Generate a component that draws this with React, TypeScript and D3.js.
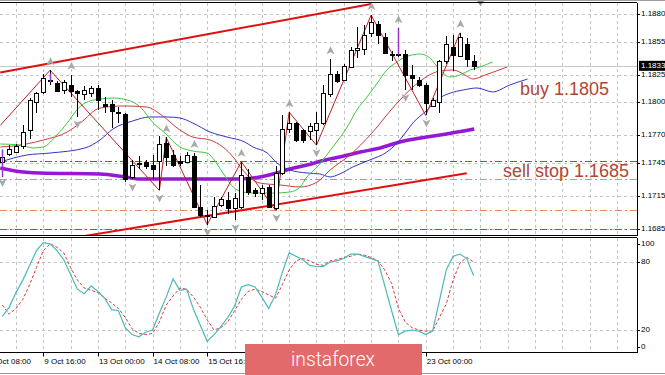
import React from 'react'
import * as d3 from 'd3'

const W = 665
const H = 375
const RIGHT = 637
const MAIN_TOP = 2.5
const MAIN_BOTTOM = 235.5
const ST_TOP = 237.5
const ST_BOTTOM = 352.5

// H4 candles, index 0 = 8 Oct 16:00
const OPEN = [1.1746, 1.1753, 1.1755, 1.176, 1.1775, 1.18, 1.1809, 1.182, 1.1817, 1.1811, 1.1816, 1.181, 1.1807, 1.1808, 1.1813, 1.1798, 1.1798, 1.1791, 1.1789, 1.1732, 1.1744, 1.1746, 1.1743, 1.1747, 1.1763, 1.1752, 1.1747, 1.1746, 1.1751, 1.1705, 1.1698, 1.1696, 1.1707, 1.1711, 1.1704, 1.1705, 1.1732, 1.172, 1.1718, 1.1723, 1.1704, 1.1736, 1.1776, 1.1781, 1.1775, 1.1774, 1.1775, 1.1781, 1.1807, 1.1826, 1.182, 1.1832, 1.1847, 1.1848, 1.1863, 1.1871, 1.1859, 1.1844, 1.1844, 1.1844, 1.1825, 1.182, 1.1816, 1.1797, 1.18, 1.1837, 1.185, 1.1842, 1.1853, 1.1837]
const HIGH = [1.1757, 1.1761, 1.1762, 1.1779, 1.1804, 1.1809, 1.1826, 1.1829, 1.1819, 1.182, 1.1825, 1.1811, 1.1815, 1.1815, 1.1816, 1.1805, 1.1802, 1.1796, 1.179, 1.1748, 1.1751, 1.1748, 1.1752, 1.1769, 1.1768, 1.1757, 1.1751, 1.1755, 1.1754, 1.1725, 1.1702, 1.1714, 1.1714, 1.1719, 1.1718, 1.1746, 1.1739, 1.1722, 1.1725, 1.1725, 1.1742, 1.1788, 1.1791, 1.1782, 1.1776, 1.1781, 1.1791, 1.1816, 1.1839, 1.1828, 1.1835, 1.185, 1.1868, 1.187, 1.1879, 1.1874, 1.1863, 1.1846, 1.1867, 1.1847, 1.1834, 1.1823, 1.1817, 1.1804, 1.1838, 1.186, 1.1861, 1.1863, 1.1858, 1.1843]
const LOW = [1.1734, 1.1751, 1.1754, 1.1758, 1.1767, 1.179, 1.1807, 1.1816, 1.1809, 1.1807, 1.1805, 1.1787, 1.1802, 1.1805, 1.1793, 1.179, 1.1777, 1.1781, 1.1728, 1.173, 1.1739, 1.1739, 1.173, 1.172, 1.1742, 1.1741, 1.1742, 1.1745, 1.1704, 1.1696, 1.1689, 1.1695, 1.1705, 1.1699, 1.1693, 1.1703, 1.1716, 1.1714, 1.1711, 1.1704, 1.1702, 1.1734, 1.1772, 1.1764, 1.1763, 1.1766, 1.1761, 1.1779, 1.1805, 1.1817, 1.1819, 1.1831, 1.184, 1.1843, 1.1859, 1.1853, 1.1844, 1.1837, 1.1841, 1.1811, 1.1811, 1.1814, 1.1788, 1.1796, 1.179, 1.1835, 1.1828, 1.1841, 1.1832, 1.1829]
const CLOSE = [1.175, 1.1758, 1.176, 1.1773, 1.1802, 1.1808, 1.1822, 1.1819, 1.181, 1.1818, 1.181, 1.1808, 1.1811, 1.1813, 1.1802, 1.1797, 1.1792, 1.179, 1.173, 1.1743, 1.1745, 1.1742, 1.1739, 1.1762, 1.175, 1.1743, 1.1745, 1.1752, 1.1705, 1.1698, 1.1697, 1.1706, 1.1712, 1.1704, 1.1713, 1.1734, 1.1719, 1.1718, 1.1722, 1.1705, 1.1736, 1.1776, 1.1781, 1.1766, 1.1766, 1.1778, 1.1781, 1.1808, 1.1826, 1.1819, 1.1833, 1.1847, 1.1849, 1.1861, 1.1873, 1.1861, 1.1845, 1.1843, 1.1843, 1.1825, 1.1822, 1.1816, 1.1799, 1.1802, 1.1837, 1.1853, 1.1843, 1.1859, 1.1839, 1.1833]

// Alligator lines (drawn shifted), sampled off the chart: candle position / price
const LIPS_IDX = [-0.3, 2.6, 4.5, 6, 8, 9.5, 10.9, 12.1, 14.3, 16.2, 18.3, 20.2, 22.1, 23.8, 26, 27.9, 30, 30.8, 32.3, 33.8, 35.2, 36.7, 39.6, 42.1, 43.6, 44.6, 46.1, 47.5, 48.4, 50.5, 51.9, 53.4, 54.9, 56.3, 57.8, 59, 61.2, 62.6, 64.1, 65.5, 67, 68.5, 69.9, 71.8]
const LIPS_VAL = [1.17621, 1.17612, 1.17585, 1.17594, 1.17703, 1.17811, 1.17929, 1.17993, 1.18029, 1.18038, 1.1802, 1.17956, 1.17811, 1.17721, 1.17594, 1.17557, 1.17539, 1.17494, 1.17358, 1.17231, 1.17186, 1.17176, 1.17176, 1.17186, 1.17231, 1.17322, 1.17412, 1.17521, 1.17594, 1.17775, 1.17929, 1.18047, 1.18174, 1.18292, 1.18365, 1.1841, 1.18437, 1.18401, 1.18292, 1.18229, 1.18247, 1.18292, 1.18319, 1.18365]
const TEETH_IDX = [-0.3, 1.6, 6, 9.5, 11.4, 14.3, 17.7, 21.2, 23.1, 26, 27.9, 30.4, 32.3, 33.8, 35.2, 36.3, 37.7, 40.7, 43.6, 46.1, 48, 50.9, 54, 56.9, 58.9, 61, 64.1, 66, 68, 68.9, 70.7, 73.9]
const TEETH_VAL = [1.17594, 1.17603, 1.17657, 1.1773, 1.17811, 1.17947, 1.17966, 1.17956, 1.17893, 1.17748, 1.17684, 1.17657, 1.17594, 1.17503, 1.17385, 1.17313, 1.17267, 1.17249, 1.17231, 1.17276, 1.17385, 1.17521, 1.17712, 1.17929, 1.18065, 1.18183, 1.18283, 1.18292, 1.18238, 1.1821, 1.18247, 1.18319]
const JAW_IDX = [-0.3, 3.6, 7, 12.1, 14.3, 16.2, 19.1, 21.6, 24.1, 26, 27.9, 30.4, 32.9, 35.5, 36.7, 38.8, 40.2, 42.1, 44.6, 46.5, 48, 49.4, 51.3, 53.8, 56.3, 57.8, 59, 60.1, 62.2, 63.6, 65.6, 67.5, 69.5, 71.8, 74.3, 76.9]
const JAW_VAL = [1.17458, 1.17521, 1.17539, 1.17585, 1.17657, 1.17757, 1.1783, 1.17866, 1.17866, 1.17857, 1.17811, 1.1773, 1.17684, 1.17639, 1.17594, 1.17539, 1.17449, 1.17385, 1.17358, 1.17349, 1.17322, 1.17349, 1.17412, 1.17476, 1.17548, 1.1763, 1.17721, 1.17811, 1.17929, 1.1802, 1.18083, 1.18111, 1.18129, 1.18093, 1.18156, 1.1821]
// slow moving average (thick purple)
const SMA_IDX = [-0.3, 1.9, 5.5, 14.3, 18, 20.2, 31.9, 34.8, 37.7, 40.2, 42.1, 44.6, 47.3, 49.4, 52.4, 55.3, 58.2, 61.2, 64.1, 69.1]
const SMA_VAL = [1.17403, 1.17376, 1.17358, 1.17349, 1.17322, 1.17303, 1.17303, 1.17303, 1.17322, 1.17358, 1.17394, 1.1743, 1.17476, 1.17503, 1.17548, 1.17585, 1.17639, 1.17675, 1.17703, 1.17757]

// zigzag vertices
const ZZ_IDX = [-0.3, 7, 23, 24, 30, 35, 40, 42, 46, 54, 62, 67]
const ZZ_VAL = [1.1779, 1.1829, 1.172, 1.1768, 1.1689, 1.1746, 1.1702, 1.1791, 1.1761, 1.1879, 1.1788, 1.1863]

const FRACTAL_UP = [7, 10, 24, 28, 35, 42, 48, 54, 58, 67]
const FRACTAL_DOWN = [0, 11, 19, 23, 30, 34, 40, 46, 59, 62]

const PURPLE_IDX = [0, 7, 58]
const PURPLE_HI = [1.1757, 1.1826, 1.1867]
const PURPLE_LO = [1.1732, 1.1818, 1.1843]

// channel lines
const TREND_UP_IDX = [-0.3, 54]
const TREND_UP_VAL = [1.1827, 1.1889]
const TREND_DN_IDX = [11.4, 68]
const TREND_DN_VAL = [1.1678, 1.17355]

const GREEN_LEVELS = [1.1747, 1.1685]
const ORANGE_LEVELS = [1.173, 1.1702]

const PRICE_TICKS = [1.188, 1.1855, 1.1825, 1.18, 1.177, 1.1745, 1.1715, 1.1685]
const STOCH_TICKS = [100, 80, 20, 0]
const STOCH_GRID = [80, 20]

const STOCH_MAIN = [32, 40, 53, 64, 77, 90, 97, 96, 90, 82, 69, 56, 52, 59, 54, 48, 38, 37, 22, 16, 14, 18, 20, 35, 49, 65, 55, 56, 38, 24, 10, 16, 23, 31, 41, 58, 60, 58, 49, 39, 51, 71, 88, 85, 82, 77, 76, 76, 80, 81, 83, 87, 87, 85, 83, 81, 59, 37, 16, 19, 20, 19, 16, 19, 46, 73, 85, 87, 83, 68]
const STOCH_SIGNAL = [42, 34, 39, 47, 60, 75, 90, 96, 93, 88, 75, 64, 57, 55, 53, 48, 44, 39, 31, 21, 17, 16, 17, 27, 42, 50, 57, 56, 49, 40, 29, 20, 22, 27, 37, 47, 54, 56, 54, 51, 48, 60, 73, 81, 83, 81, 78, 77, 81, 82, 84, 85, 87, 86, 84, 81, 73, 61, 39, 27, 22, 20, 19, 19, 31, 43, 64, 79, 84, 80]

// labels under the logo are not visible in the original, so they are left out
const TIME_IDX = [-2, 6, 14, 22, 30, 62]
const TIME_LABELS = ['8 Oct 08:00', '9 Oct 16:00', '13 Oct 00:00', '14 Oct 08:00', '15 Oct 16:00', '23 Oct 00:00']

const NOTES = [
  { text: 'buy 1.1805', idx: 75.8, price: 1.1805 },
  { text: 'sell stop 1.1685', idx: 73.3, price: 1.173 },
]

const FONT = '"Liberation Sans", Arial, sans-serif'

export default function App() {
  const x = d3.scaleLinear().domain([0, 1]).range([2.3, 9.13])
  const y = d3.scaleLinear().domain([1.1685, 1.188]).range([229, 14])
  const ys = d3.scaleLinear().domain([0, 100]).range([352.7, 239.3])

  const pathOf = (idx: number[], val: number[], smooth = true) => {
    const gen = d3.line<number>().x((_, k) => x(idx[k])).y((v) => y(v))
    if (smooth) gen.curve(d3.curveMonotoneX)
    return gen(val) ?? ''
  }
  const stochLine = d3.line<number>().x((_, k) => x(k)).y((v) => ys(v))

  const vgrid = d3.range(2, 93, 4)
  const last = CLOSE[CLOSE.length - 1]

  const up = (cx: number, cy: number) => `M${cx},${cy - 4}L${cx + 4},${cy + 4}L${cx},${cy + 2}L${cx - 4},${cy + 4}Z`
  const down = (cx: number, cy: number) => `M${cx},${cy + 4}L${cx + 4},${cy - 4}L${cx},${cy - 2}L${cx - 4},${cy - 4}Z`

  return (
    <div>
      <style>{`body{margin:0}`}</style>
      <svg width={W} height={H} style={{ display: 'block', background: '#fff' }} fontFamily={FONT}>
        <defs>
          <clipPath id="mainClip">
            <rect x={0} y={MAIN_TOP} width={RIGHT} height={MAIN_BOTTOM - MAIN_TOP} />
          </clipPath>
          <clipPath id="stClip">
            <rect x={0} y={ST_TOP} width={RIGHT} height={ST_BOTTOM - ST_TOP} />
          </clipPath>
        </defs>

        {/* grid */}
        <g stroke="#c4c4c4" strokeDasharray="3 3" shapeRendering="crispEdges">
          {vgrid.map((i) => (
            <g key={`v${i}`}>
              <line x1={Math.round(x(i)) + 0.5} x2={Math.round(x(i)) + 0.5} y1={MAIN_TOP} y2={MAIN_BOTTOM} />
              <line x1={Math.round(x(i)) + 0.5} x2={Math.round(x(i)) + 0.5} y1={ST_TOP} y2={ST_BOTTOM} />
            </g>
          ))}
          {PRICE_TICKS.map((t) => (
            <line key={`h${t}`} x1={0} x2={RIGHT} y1={Math.round(y(t)) + 0.5} y2={Math.round(y(t)) + 0.5} />
          ))}
          {STOCH_GRID.map((t) => (
            <line key={`s${t}`} x1={0} x2={RIGHT} y1={Math.round(ys(t)) + 0.5} y2={Math.round(ys(t)) + 0.5} />
          ))}
        </g>

        <g clipPath="url(#mainClip)">
          {/* bid line */}
          <line x1={0} x2={RIGHT} y1={Math.round(y(last)) + 0.5} y2={Math.round(y(last)) + 0.5} stroke="#c8c8c8" />

          {/* order levels */}
          {GREEN_LEVELS.map((p) => (
            <line key={`g${p}`} x1={0} x2={RIGHT} y1={Math.round(y(p)) + 0.5} y2={Math.round(y(p)) + 0.5}
              stroke="#2f8a2f" strokeDasharray="7 3 2 3" />
          ))}
          {ORANGE_LEVELS.map((p) => (
            <line key={`o${p}`} x1={0} x2={RIGHT} y1={Math.round(y(p)) + 0.5} y2={Math.round(y(p)) + 0.5}
              stroke="#ea8a66" strokeDasharray="7 3 2 3" />
          ))}

          {/* channel */}
          <path d={pathOf(TREND_UP_IDX, TREND_UP_VAL, false)} stroke="#e01010" strokeWidth={2} fill="none" />
          <path d={pathOf(TREND_DN_IDX, TREND_DN_VAL, false)} stroke="#e01010" strokeWidth={2} fill="none" />

          {/* moving averages */}
          <path d={pathOf(SMA_IDX, SMA_VAL)} stroke="#9418d4" strokeWidth={3.5} fill="none" />
          <path d={pathOf(JAW_IDX, JAW_VAL)} stroke="#3434c8" strokeWidth={1} fill="none" />
          <path d={pathOf(TEETH_IDX, TEETH_VAL)} stroke="#d23a3a" strokeWidth={1} fill="none" />
          <path d={pathOf(LIPS_IDX, LIPS_VAL)} stroke="#3ec83e" strokeWidth={1} fill="none" />

          {/* zigzag */}
          <path d={pathOf(ZZ_IDX, ZZ_VAL, false)} stroke="#b82020" strokeWidth={1} fill="none" />

          {/* candles */}
          <g shapeRendering="crispEdges">
            {OPEN.map((o, i) => {
              const c = CLOSE[i]
              const cx = Math.round(x(i))
              const top = Math.round(y(Math.max(o, c)))
              const bot = Math.round(y(Math.min(o, c)))
              const bull = c >= o
              return (
                <g key={`c${i}`}>
                  <line x1={cx + 0.5} x2={cx + 0.5} y1={y(HIGH[i])} y2={y(LOW[i])} stroke="#000" />
                  <rect x={cx - 1.5} y={top + 0.5} width={4} height={Math.max(bot - top, 1)}
                    fill={bull ? '#fff' : '#000'} stroke="#000" />
                </g>
              )
            })}
          </g>

          {PURPLE_IDX.map((i, k) => (
            <line key={`p${i}`} x1={Math.round(x(i)) + 0.5} x2={Math.round(x(i)) + 0.5}
              y1={y(PURPLE_HI[k])} y2={y(PURPLE_LO[k])} stroke="#9a30d0" strokeWidth={1.5} />
          ))}

          {/* fractals */}
          {FRACTAL_UP.map((i) => (
            <path key={`fu${i}`} d={up(Math.round(x(i)) + 0.5, y(HIGH[i]) - 9)} fill="#a9a9a9" />
          ))}
          {FRACTAL_DOWN.map((i) => (
            <path key={`fd${i}`} d={down(Math.round(x(i)) + 0.5, y(LOW[i]) + 8)} fill="#a9a9a9" />
          ))}

          {NOTES.map((n) => (
            <text key={n.text} x={x(n.idx)} y={y(n.price) - 2} fontSize={18} fill="#b24536">
              {n.text}
            </text>
          ))}
        </g>

        {/* chart shift marker */}
        <path d="M477,1L484,1L480.5,6Z" fill="#8c8c8c" />

        {/* stochastic */}
        <g clipPath="url(#stClip)">
          <path d={stochLine(STOCH_SIGNAL) ?? ''} stroke="#d23c3c" strokeDasharray="3 2" fill="none" />
          <path d={stochLine(STOCH_MAIN) ?? ''} stroke="#4db8b8" strokeWidth={1.2} fill="none" />
        </g>

        {/* frames */}
        <g stroke="#000" shapeRendering="crispEdges" fill="none">
          <line x1={0} x2={W} y1={0.5} y2={0.5} stroke="#a0a0a0" />
          <line x1={0} x2={RIGHT} y1={MAIN_TOP} y2={MAIN_TOP} />
          <line x1={0} x2={RIGHT} y1={MAIN_BOTTOM} y2={MAIN_BOTTOM} />
          <line x1={0} x2={RIGHT} y1={ST_TOP} y2={ST_TOP} />
          <line x1={0} x2={RIGHT} y1={ST_BOTTOM} y2={ST_BOTTOM} />
          <line x1={RIGHT + 0.5} x2={RIGHT + 0.5} y1={MAIN_TOP} y2={MAIN_BOTTOM} />
          <line x1={RIGHT + 0.5} x2={RIGHT + 0.5} y1={ST_TOP} y2={ST_BOTTOM} />
          <line x1={0} x2={W} y1={373.5} y2={373.5} stroke="#9a9a9a" />
        </g>

        {/* price axis */}
        <g fontSize={8} fill="#000">
          {PRICE_TICKS.map((t) => (
            <g key={`pt${t}`}>
              <line x1={RIGHT} x2={RIGHT + 3} y1={Math.round(y(t)) + 0.5} y2={Math.round(y(t)) + 0.5} stroke="#000" />
              <text x={641} y={y(t)} dominantBaseline="middle">{t.toFixed(4)}</text>
            </g>
          ))}
          <rect x={639} y={y(last) - 5} width={W - 639} height={10} fill="#000" />
          <text x={641} y={y(last)} dominantBaseline="middle" fill="#fff">{last.toFixed(4)}</text>
          {STOCH_TICKS.map((t) => {
            const ty = Math.min(Math.max(ys(t), ST_TOP + 6), ST_BOTTOM - 6)
            return (
              <g key={`st${t}`}>
                <line x1={RIGHT} x2={RIGHT + 3} y1={Math.round(ty) + 0.5} y2={Math.round(ty) + 0.5} stroke="#000" />
                <text x={641} y={ty} dominantBaseline="middle">{t}</text>
              </g>
            )
          })}
        </g>

        {/* time axis */}
        <g fontSize={8} fill="#000">
          {TIME_IDX.map((i, k) => (
            <g key={`t${i}`}>
              <line x1={Math.round(x(i)) + 0.5} x2={Math.round(x(i)) + 0.5} y1={ST_BOTTOM} y2={ST_BOTTOM + 4} stroke="#000" />
              <text x={x(i) + 1} y={364}>{TIME_LABELS[k]}</text>
            </g>
          ))}
        </g>

        {/* logo */}
        <rect x={245} y={344} width={177} height={31} fill="#e26a6a" />
        <text x={333} y={366} textAnchor="middle" fill="#fff" fontSize={20} fontWeight={300}
          fontFamily='Roboto, "Open Sans", sans-serif' textLength={84} lengthAdjust="spacingAndGlyphs">
          instaforex
        </text>
      </svg>
    </div>
  )
}
